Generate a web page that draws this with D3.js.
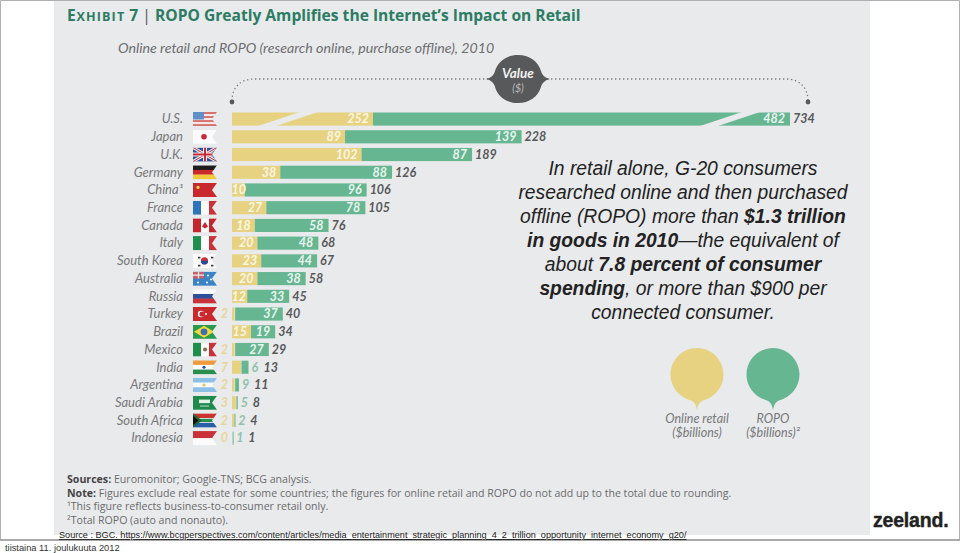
<!DOCTYPE html>
<html>
<head>
<meta charset="utf-8">
<script src="https://cdn.jsdelivr.net/npm/d3@7"></script>
<style>
html,body{margin:0;padding:0;background:#fff}
svg{display:block}
.hv{font-family:"Liberation Sans",sans-serif}
.hum{font-family:"Open Sans",sans-serif}
.lat{font-family:Lato,sans-serif}
</style>
</head>
<body>
<div id="root"></div>
<script>
const countries = ["U.S.","Japan","U.K.","Germany","China","France","Canada","Italy","South Korea","Australia","Russia","Turkey","Brazil","Mexico","India","Argentina","Saudi Arabia","South Africa","Indonesia"]
const flags = ["us","jp","uk","de","cn","fr","ca","it","kr","au","ru","tr","br","mx","in","ar","sa","za","id"]
const retail = [252,89,102,38,10,27,18,20,23,20,12,2,15,2,7,2,3,2,0]
const ropo = [482,139,87,88,96,78,58,48,44,38,33,37,19,27,6,9,5,2,1]
const totals = [734,228,189,126,106,105,76,68,67,58,45,40,34,29,13,11,8,4,1]
// Argentina, Saudi Arabia and South Africa are drawn shorter than their labels in the source
const drawnEnd = [734,228,189,126,106,105,76,68,67,58,45,40,34,29,13,5.5,4.5,2.5,1]

const w = 960, h = 553
const svg = d3.select("#root").append("svg").attr("width", w).attr("height", h)

const yellow = "#e6d281", green = "#66b692", panel = "#e9eaec"

//scales
const rowscale = d3.scaleBand().domain(countries).range([110.2, 447]).paddingInner(0.26).paddingOuter(0.13)
const x = d3.scaleLinear().domain([0, 228]).range([232, 521.6])
// U.S. bar is broken twice
const xUS = d3.scaleLinear().domain([0, 252, 734]).range([232, 373, 790])
const rowX = i => i === 0 ? xUS : x

svg.append("rect").attr("x", 54).attr("y", 0).attr("width", 816).attr("height", 535).attr("fill", panel)

// frame of the slide
svg.append("path").attr("d", `M0.5,541V0.5H959.5V541`).attr("fill", "none").attr("stroke", "#b0b0b0")
svg.append("rect").attr("x", 0).attr("y", 539).attr("width", w).attr("height", 2).attr("fill", "#a9a9a9")

// header
const title = svg.append("text").attr("class", "hum").attr("x", 67).attr("y", 21)
    .attr("fill", "#2b7c62").attr("font-weight", 700).attr("font-size", 15.6)
title.append("tspan").text("E").attr("letter-spacing", 0.8)
title.append("tspan").text("XHIBIT").attr("font-size", 12.6).attr("letter-spacing", 1.1)
title.append("tspan").text(" 7 ")
title.append("tspan").text("| ").attr("font-weight", 400).attr("fill", "#555")
title.append("tspan").text("ROPO Greatly Amplifies the Internet’s Impact on Retail")

svg.append("text").attr("class", "lat").attr("x", 118).attr("y", 53)
    .attr("font-style", "italic").attr("font-size", 14.2).attr("fill", "#6d6e70")
    .text("Online retail and ROPO (research online, purchase offline), 2010")

// dotted bracket above the bars
svg.append("path")
    .attr("d", "M232,101C232,88 240,79 254,79H786C800,79 808,88 808,101")
    .attr("fill", "none").attr("stroke", "#77787a").attr("stroke-width", 1.3)
    .attr("stroke-dasharray", "1.3 2.7")
svg.selectAll("circle.end").data([232, 808]).enter().append("circle")
    .attr("class", "end").attr("cx", d => d).attr("cy", 102).attr("r", 2.4).attr("fill", "#58595b")

svg.append("path")
    .attr("d", "M486,79C491,78 494,75 495,71C498,61 507,55 518,55C529,55 538,61 541,71C542,75 545,78 550,79C545,80 542,83 541,87C538,97 529,103 518,103C507,103 498,97 495,87C494,83 491,80 486,79Z")
    .attr("fill", "#58595b")
svg.append("text").attr("class", "lat").attr("x", 518).attr("y", 78).attr("text-anchor", "middle")
    .attr("font-style", "italic").attr("font-weight", 700).attr("font-size", 13.5).attr("fill", "#f2f2f2").text("Value")
svg.append("text").attr("class", "lat").attr("x", 518).attr("y", 92).attr("text-anchor", "middle")
    .attr("font-style", "italic").attr("font-size", 10.5).attr("fill", "#b9b9b9").text("($)")

// bars
const rows = svg.selectAll("g.row").data(countries).enter().append("g").attr("class", "row")
    .attr("transform", d => `translate(0,${rowscale(d)})`)
const bh = rowscale.bandwidth()

rows.append("rect").attr("fill", yellow)
    .attr("x", (d, i) => rowX(i)(0)).attr("height", bh)
    .attr("width", (d, i) => rowX(i)(retail[i]) - rowX(i)(0))
rows.append("rect").attr("fill", green)
    .attr("x", (d, i) => rowX(i)(retail[i] && Math.min(retail[i], drawnEnd[i] - 1)) + (retail[i] < 8 ? 0.6 : 0)).attr("height", bh)
    .attr("width", (d, i) => Math.max(1, rowX(i)(drawnEnd[i]) - rowX(i)(Math.min(retail[i], drawnEnd[i] - 1)) - (retail[i] < 8 ? 0.6 : 0)))

// the two slanted cuts of the U.S. bar
svg.selectAll("path.cut").data([[255,303],[697,745]]).enter().append("path").attr("class", "cut")
    .attr("d", d => `M${d[0]},127L${d[1]},111L${d[1] + 18},111L${d[0] + 18},127Z`)
    .attr("fill", panel)

// labels
const labelFont = s => s.attr("class", "lat").attr("font-style", "italic").attr("font-weight", 700).attr("font-size", 12.5)
const mid = bh / 2 + 4.3
rows.append("text").attr("class", "lat").attr("x", 183).attr("y", mid).attr("text-anchor", "end")
    .attr("font-style", "italic").attr("font-size", 13).attr("fill", "#77787a")
    .text(d => d === "China" ? "China¹" : d)

rows.append("text").call(labelFont).attr("y", mid)
    .attr("x", (d, i) => retail[i] >= 10 ? Math.max(rowX(i)(retail[i]) - 4, 246) : 228)
    .attr("text-anchor", "end")
    .attr("fill", (d, i) => retail[i] >= 10 ? "#fbf6e2" : "#e6d69a")
    .text((d, i) => retail[i])
rows.append("text").call(labelFont).attr("y", mid)
    .attr("x", (d, i) => ropo[i] >= 10 ? rowX(i)(totals[i]) - 5 : rowX(i)(drawnEnd[i]) + 3)
    .attr("text-anchor", (d, i) => ropo[i] >= 10 ? "end" : "start")
    .attr("fill", (d, i) => ropo[i] >= 10 ? "#e9f5ef" : "#8fc2aa")
    .text((d, i) => ropo[i])
rows.append("text").call(labelFont).attr("y", mid)
    .attr("x", (d, i) => rowX(i)(drawnEnd[i]) + (ropo[i] >= 10 ? 3 : 15))
    .attr("fill", "#58595b")
    .text((d, i) => totals[i])

// flags
const fw = 24, fh = bh + 1
const defs = svg.append("defs")
defs.append("clipPath").attr("id", "notch").append("path")
    .attr("d", `M0,0H${fw}L${fw - 5},${fh / 2}L${fw},${fh}H0Z`)
const flag = rows.append("g").attr("clip-path", "url(#notch)")
    .attr("transform", `translate(193,${-0.5})`)

function bands(g, cols, vertical) {
    cols.forEach((c, i) => {
        const r = g.append("rect").attr("fill", c)
        if (vertical) r.attr("x", fw * i / cols.length).attr("y", 0).attr("width", fw / cols.length + 0.2).attr("height", fh)
        else r.attr("x", 0).attr("y", fh * i / cols.length).attr("width", fw).attr("height", fh / cols.length + 0.2)
    })
}
const dot = (g, cx, cy, r, c) => g.append("circle").attr("cx", cx).attr("cy", cy).attr("r", r).attr("fill", c)
const flagDraw = {
    us: g => {
        bands(g, ["#d9726f","#f2e9e8","#d9726f","#f2e9e8","#d9726f","#f2e9e8","#d9726f"])
        g.append("rect").attr("width", 11).attr("height", 7.5).attr("fill", "#5f8fc9")
    },
    jp: g => { bands(g, ["#fbfbfb"]); dot(g, 11, fh / 2, 2.8, "#c9283a") },
    uk: g => {
        bands(g, ["#2e4f94"])
        g.append("path").attr("d", `M0,0L${fw},${fh}M${fw},0L0,${fh}`).attr("stroke", "#eee").attr("stroke-width", 3)
        g.append("path").attr("d", `M0,0L${fw},${fh}M${fw},0L0,${fh}`).attr("stroke", "#c9283a").attr("stroke-width", 1)
        g.append("path").attr("d", `M${fw / 2},0V${fh}M0,${fh / 2}H${fw}`).attr("stroke", "#eee").attr("stroke-width", 4)
        g.append("path").attr("d", `M${fw / 2},0V${fh}M0,${fh / 2}H${fw}`).attr("stroke", "#c9283a").attr("stroke-width", 2)
    },
    de: g => bands(g, ["#1c1c1c","#c9282d","#f2c83c"]),
    cn: g => { bands(g, ["#c9282d"]); dot(g, 5, 4.5, 1.6, "#f0d94a") },
    fr: g => bands(g, ["#2e74bd","#fbfbfb","#c9323a"], true),
    ca: g => {
        bands(g, ["#c4262e","#fbfbfb","#c4262e"], true)
        g.append("path").attr("d", `M12,${fh / 2 - 3.5}L15,${fh / 2 + 1}L12,${fh / 2 + 3}L9,${fh / 2 + 1}Z`).attr("fill", "#c4262e")
    },
    it: g => bands(g, ["#1f8f4e","#fbfbfb","#c9323a"], true),
    kr: g => {
        bands(g, ["#fbfbfb"])
        dot(g, 11.5, fh / 2, 3.6, "#c9323a")
        g.append("path").attr("d", `M7.9,${fh / 2}A3.6,3.6 0 0 0 15.1,${fh / 2}Z`).attr("fill", "#1f4f9c")
        ;[[5, 3], [18, 3], [5, 11], [18, 11]].forEach(p => g.append("rect").attr("x", p[0]).attr("y", p[1]).attr("width", 2.4).attr("height", 1.6).attr("fill", "#333"))
    },
    au: g => {
        bands(g, ["#3a83c4"])
        g.append("rect").attr("width", 11).attr("height", 7).attr("fill", "#c7606a")
        g.append("path").attr("d", "M0,3.5H11M5.5,0V7").attr("stroke", "#eee").attr("stroke-width", 1.2)
        ;[[5, 11], [15, 4], [18, 8], [14, 11]].forEach(p => dot(g, p[0], p[1], 1, "#fff"))
    },
    ru: g => bands(g, ["#fbfbfb","#2e4f9c","#c9323a"]),
    tr: g => {
        bands(g, ["#c9282d"])
        dot(g, 8, fh / 2, 3.2, "#fff"); dot(g, 9, fh / 2, 2.6, "#c9282d"); dot(g, 13, fh / 2, 1, "#fff")
    },
    br: g => {
        bands(g, ["#2a9a4f"])
        g.append("path").attr("d", `M1,${fh / 2}L11,1L21,${fh / 2}L11,${fh - 1}Z`).attr("fill", "#f2d93c")
        dot(g, 11, fh / 2, 3.4, "#3c6fb0")
    },
    mx: g => { bands(g, ["#1f8f4e","#fbfbfb","#c9323a"], true); dot(g, 12, fh / 2, 2, "#8a6a4a") },
    in: g => { bands(g, ["#ee9a3d","#fbfbfb","#2a8f4e"]); dot(g, 11, fh / 2, 1.6, "#2e4f9c") },
    ar: g => { bands(g, ["#8cc0e6","#fbfbfb","#8cc0e6"]); dot(g, 11, fh / 2, 1.5, "#e6c04a") },
    sa: g => {
        bands(g, ["#1f8a4c"])
        g.append("rect").attr("x", 6).attr("y", 4).attr("width", 11).attr("height", 3.5).attr("fill", "#e6f2ea")
        g.append("rect").attr("x", 7).attr("y", 10).attr("width", 9).attr("height", 0.8).attr("fill", "#e6f2ea")
    },
    za: g => {
        bands(g, ["#c9342e","#fbfbfb","#2a5fa8"])
        g.append("path").attr("d", `M0,${fh / 2}H${fw}`).attr("stroke", "#2a8f4e").attr("stroke-width", 3.4)
        g.append("path").attr("d", `M0,0L9,${fh / 2}L0,${fh}Z`).attr("fill", "#1c6a3c")
        g.append("path").attr("d", `M0,2.5L5.5,${fh / 2}L0,${fh - 2.5}Z`).attr("fill", "#111")
    },
    id: g => bands(g, ["#c9323a","#fbfbfb"])
}
flag.each(function (d, i) { flagDraw[flags[i]](d3.select(this)) })

// legend balloons
const balloons = [
    {cx: 697, c: yellow, a: "Online retail", b: "($billions)"},
    {cx: 773, c: green, a: "ROPO", b: "($billions)²"}
]
const bal = svg.selectAll("g.bal").data(balloons).enter().append("g").attr("class", "bal")
    .attr("transform", d => `translate(${d.cx},0)`)
bal.append("path").attr("fill", d => d.c)
    .attr("d", "M0,410C-1,404 -3,402 -6,400.5C-18,397 -26.5,387 -26.5,374.5C-26.5,360 -14.5,348 0,348C14.5,348 26.5,360 26.5,374.5C26.5,387 18,397 6,400.5C3,402 1,404 0,410Z")
bal.append("text").attr("class", "lat").attr("y", 423).attr("text-anchor", "middle")
    .attr("font-style", "italic").attr("font-size", 12.5).attr("fill", "#77787a").text(d => d.a)
bal.append("text").attr("class", "lat").attr("y", 436.5).attr("text-anchor", "middle")
    .attr("font-style", "italic").attr("font-size", 12.5).attr("fill", "#77787a").text(d => d.b)

// slide text on the right
const para = [
    [["In retail alone, G-20 consumers", 0]],
    [["researched online and then purchased", 0]],
    [["offline (ROPO) more than ", 0], ["$1.3 trillion", 1]],
    [["in goods in 2010", 1], ["—the equivalent of", 0]],
    [["about ", 0], ["7.8 percent of consumer", 1]],
    [["spending", 1], [", or more than $900 per", 0]],
    [["connected consumer.", 0]]
]
const ptext = svg.selectAll("text.para").data(para).enter().append("text").attr("class", "para hv")
    .attr("x", 683).attr("y", (d, i) => 175 + i * 24).attr("text-anchor", "middle")
    .attr("font-style", "italic").attr("font-size", 19.3).attr("fill", "#222")
ptext.selectAll("tspan").data(d => d).enter().append("tspan")
    .attr("font-weight", d => d[1] ? 700 : 400).text(d => d[0])

// footnotes
const notes = [
    [["Sources:", 1], [" Euromonitor; Google-TNS; BCG analysis.", 0]],
    [["Note:", 1], [" Figures exclude real estate for some countries; the figures for online retail and ROPO do not add up to the total due to rounding.", 0]],
    [["¹This figure reflects business-to-consumer retail only.", 0]],
    [["²Total ROPO (auto and nonauto).", 0]]
]
const ntext = svg.selectAll("text.note").data(notes).enter().append("text").attr("class", "note hum")
    .attr("x", 67).attr("y", (d, i) => 483 + i * 13.6)
    .attr("font-size", 10.6).attr("fill", "#6a6b6d")
ntext.selectAll("tspan").data(d => d).enter().append("tspan")
    .attr("font-weight", d => d[1] ? 700 : 400).attr("fill", d => d[1] ? "#444" : null).text(d => d[0])

svg.append("text").attr("class", "hv").attr("x", 59).attr("y", 538).attr("font-size", 9.15).attr("fill", "#222")
    .attr("text-decoration", "underline")
    .text("Source : BGC. https://www.bcgperspectives.com/content/articles/media_entertainment_strategic_planning_4_2_trillion_opportunity_internet_economy_g20/")
svg.append("text").attr("class", "hv").attr("x", 5).attr("y", 551).attr("font-size", 9.3).attr("fill", "#333")
    .text("tiistaina 11. joulukuuta 2012")
svg.append("text").attr("class", "hv").attr("x", 873).attr("y", 527).attr("font-size", 19.5)
    .attr("font-weight", 700).attr("letter-spacing", -0.2).attr("stroke", "#222").attr("stroke-width", 0.4)
    .attr("fill", "#222").text("zeeland.")
</script>
</body>
</html>
